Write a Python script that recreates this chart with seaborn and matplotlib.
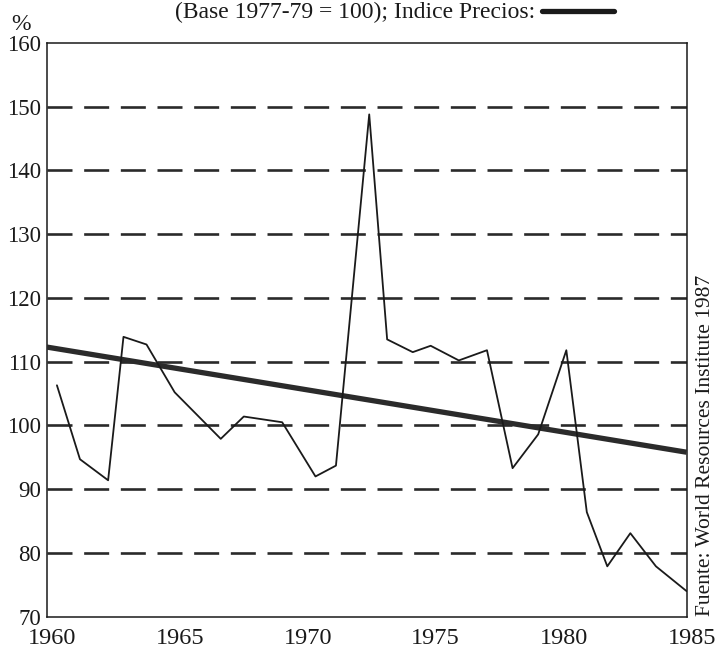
import seaborn as sns
import matplotlib.pyplot as plt
import pandas as pd
from matplotlib.lines import Line2D
from matplotlib.transforms import ScaledTranslation

# Price index values (Base 1977-79 = 100)
years = [1960.4, 1961.3, 1962.4, 1963.0, 1963.9, 1965.0, 1966.8, 1967.7, 1969.2, 1970.5,
         1971.3, 1972.6, 1973.3, 1974.3, 1975.0, 1976.1, 1977.2, 1978.2, 1979.2, 1980.3,
         1981.1, 1981.9, 1982.8, 1983.8, 1985.0]
values = [106.3, 94.7, 91.4, 113.9, 112.7, 105.2, 97.9, 101.4, 100.5, 92.0,
          93.7, 148.8, 113.5, 111.5, 112.5, 110.2, 111.8, 93.3, 98.6, 111.8,
          86.4, 77.9, 83.1, 77.9, 74.0]

# Thick trend line ("Indice Precios")
trend_years = [1960, 1985]
trend_values = [112.3, 95.8]

grid_levels = [80, 90, 100, 110, 120, 130, 140, 150]
x_ticks = [1960, 1965, 1970, 1975, 1980, 1985]
y_ticks = [70, 80, 90, 100, 110, 120, 130, 140, 150, 160]

df = pd.DataFrame({'year': years, 'value': values})
trend = pd.DataFrame({'year': trend_years, 'value': trend_values})

sns.set_style('white')
plt.rcParams['font.family'] = ['Liberation Serif', 'DejaVu Serif']
plt.rcParams['lines.scale_dashes'] = False

fig = plt.figure(figsize=(7.26, 6.53), dpi=100)
ax = fig.add_axes([0.0643, 0.0556, 0.8815, 0.8786])

# dashed horizontal reference lines
for lvl in grid_levels:
    ax.axhline(lvl, color='#2a2a2a', lw=1.9, linestyle=(0, (18, 8.4)), zorder=1)

sns.lineplot(data=trend, x='year', y='value', ax=ax, color='#2b2b2b', lw=3.8,
             solid_capstyle='butt', zorder=3)
sns.lineplot(data=df, x='year', y='value', ax=ax, color='#1a1a1a', lw=1.3,
             sort=False, zorder=4)

ax.set_xlim(1960, 1985)
ax.set_ylim(70, 160)
ax.set_xticks(x_ticks)
ax.set_yticks(y_ticks)
ax.set_xlabel('')
ax.set_ylabel('')

for s in ax.spines.values():
    s.set_visible(True)
    s.set_color('#1a1a1a')
    s.set_linewidth(1.1)

ax.tick_params(axis='x', direction='inout', length=11, width=1, pad=3,
               labelsize=17.5, colors='#1a1a1a')
ax.tick_params(axis='y', direction='out', length=3, width=1, pad=1,
               labelsize=16.5, colors='#1a1a1a')

# the scanned year labels sit a little right of their ticks
shift = ScaledTranslation(5 / 100, 0, fig.dpi_scale_trans)
for lab in ax.get_xticklabels():
    lab.set_transform(lab.get_transform() + shift)

# header text with thick line sample
fig.text(535 / 726, 1 - 18 / 653, '(Base 1977-79 = 100); Indice Precios:',
         ha='right', va='baseline', fontsize=17, color='#1a1a1a')
fig.add_artist(Line2D([542 / 726, 614 / 726], [1 - 11 / 653, 1 - 11 / 653],
                      transform=fig.transFigure, color='#1a1a1a', lw=3.8))

fig.text(21 / 726, 1 - 24 / 653, '%', ha='center', va='center', fontsize=17,
         color='#1a1a1a')

fig.text(706 / 726, 1 - 445 / 653, 'Fuente: World Resources Institute 1987',
         rotation=90, ha='center', va='center', fontsize=15.5, color='#1a1a1a')

fig.savefig('out.png', dpi=100)
